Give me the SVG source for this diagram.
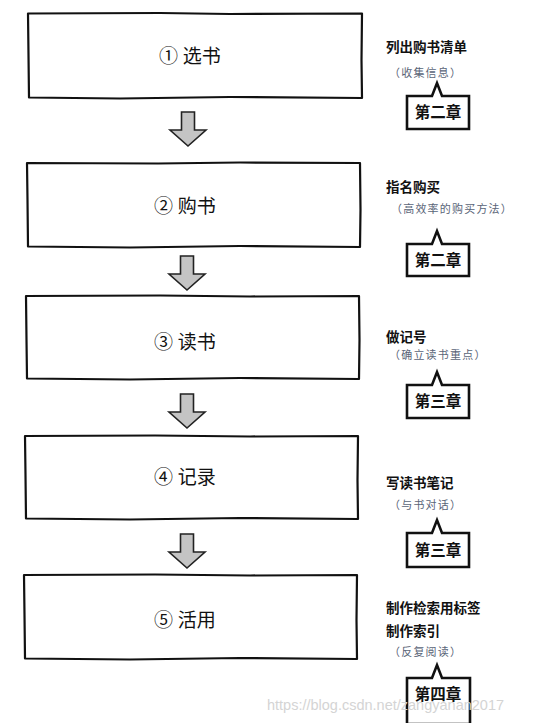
<svg xmlns="http://www.w3.org/2000/svg" width="535" height="723" viewBox="0 0 535 723">
<style>
.box{fill:#fff;stroke:#111;stroke-width:2.2;stroke-linejoin:round}
.bt{font-family:"Liberation Serif","Noto Sans CJK SC",serif;font-size:19px;fill:#111;text-anchor:middle}
.arrow{fill:#c4c4c4;stroke:#222;stroke-width:1.6;stroke-linejoin:miter}
.t{font-family:"Noto Sans CJK SC",sans-serif;font-size:13.5px;font-weight:bold;fill:#111}
.s{font-family:"Noto Sans CJK SC",sans-serif;font-size:11px;fill:#5a6578;letter-spacing:1.2px}
.co{fill:#fff;stroke:#111;stroke-width:2.6;stroke-linejoin:miter}
.ct{font-family:"Noto Sans CJK SC",sans-serif;font-size:15.5px;font-weight:bold;fill:#111;text-anchor:middle}
.wm{font-family:"Liberation Sans",Arial,sans-serif;font-size:14.5px;fill:#d4d4d4}
</style>
<rect x="0" y="0" width="535" height="723" fill="#fff"/>
<g id="connectors">
<path class="arrow" d="M181.5,112 L194.5,112 L194.5,130 L206,130 L188,146 L170,130 L181.5,130 Z"/>
<path class="arrow" d="M180.5,256 L193.5,256 L193.5,274 L205,274 L187,290 L169,274 L180.5,274 Z"/>
<path class="arrow" d="M180.5,394 L193.5,394 L193.5,412 L205,412 L187,428 L169,412 L180.5,412 Z"/>
<path class="arrow" d="M180.5,534 L193.5,534 L193.5,552 L205,552 L187,568 L169,552 L180.5,552 Z"/>
</g>
<g id="node1">
<path class="box" d="M28,13.5 L160,13 L230,14 L362,13.5 L361.5,60 L362,98 L230,97 L120,98.5 L29,97.5 L28.5,55 Z"/>
<text class="bt" x="190" y="63">① 选书</text>
</g>
<g id="node2">
<path class="box" d="M27,163 L158,163.5 L240,162.5 L360,163 L360.5,210 L360,247 L240,246 L130,247.5 L28,246.5 L27.5,200 Z"/>
<text class="bt" x="185" y="213">② 购书</text>
</g>
<g id="node3">
<path class="box" d="M26,296 L160,295.5 L250,296.5 L359,296 L359.5,340 L359,379 L240,378 L130,379.5 L27,378.5 L26.5,340 Z"/>
<text class="bt" x="185" y="349">③ 读书</text>
</g>
<g id="node4">
<path class="box" d="M25,436 L155,435.5 L250,436.5 L358,436 L357.5,480 L358,519 L240,518 L130,519.5 L26,518.5 L25.5,475 Z"/>
<text class="bt" x="185" y="484">④ 记录</text>
</g>
<g id="node5">
<path class="box" d="M24,575 L155,574.5 L250,575.5 L357,575 L356.5,620 L357,659 L240,658 L130,659.5 L25,658.5 L24.5,615 Z"/>
<text class="bt" x="185" y="627">⑤ 活用</text>
</g>
<g id="note1">
<text class="t" x="386" y="52">列出购书清单</text>
<text class="s" x="389" y="77">（收集信息）</text>
<path class="co" d="M407,96 L432,96 L437,83 L442,96 L469,96 L469,129 L407,129 Z"/>
<text class="ct" x="438" y="118">第二章</text>
</g>
<g id="note2">
<text class="t" x="386" y="192">指名购买</text>
<text class="s" x="391" y="213">（高效率的购买方法）</text>
<path class="co" d="M407,244 L432,244 L437,231 L442,244 L469,244 L469,276 L407,276 Z"/>
<text class="ct" x="438" y="266">第二章</text>
</g>
<g id="note3">
<text class="t" x="386" y="342">做记号</text>
<text class="s" x="389" y="359">（确立读书重点）</text>
<path class="co" d="M407,385 L432,385 L437,372 L442,385 L469,385 L469,418 L407,418 Z"/>
<text class="ct" x="438" y="407">第三章</text>
</g>
<g id="note4">
<text class="t" x="386" y="488">写读书笔记</text>
<text class="s" x="389" y="509">（与书对话）</text>
<path class="co" d="M407,533 L432,533 L437,520 L442,533 L469,533 L469,567 L407,567 Z"/>
<text class="ct" x="438" y="556">第三章</text>
</g>
<g id="note5">
<text class="t" x="386" y="613">制作检索用标签</text>
<text class="t" x="386" y="636">制作索引</text>
<text class="s" x="389" y="656">（反复阅读）</text>
<path class="co" d="M407,678 L432,678 L437,665 L442,678 L470,678 L470,724 L407,724 Z"/>
<text class="ct" x="438" y="700">第四章</text>
</g>
<text class="wm" x="267" y="710">https://blog.csdn.net/zangyanan2017</text>
</svg>
